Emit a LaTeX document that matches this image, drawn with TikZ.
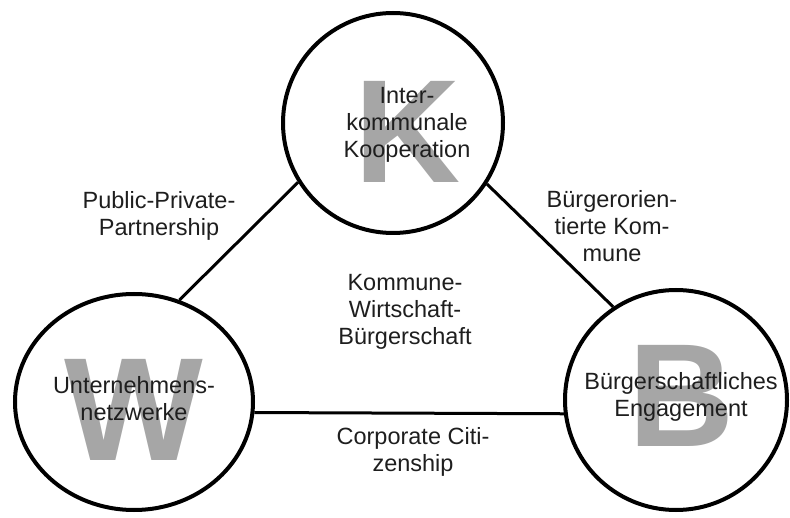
\documentclass[tikz,border=0pt]{standalone}
\usepackage{fontspec}
\setmainfont{Liberation Sans}
\usetikzlibrary{shapes.geometric}
\definecolor{lettergray}{RGB}{166,166,166}
\definecolor{txt}{RGB}{30,30,30}
\begin{document}
\begin{tikzpicture}[x=1pt,y=-1pt,
  ring/.style={draw=black,line width=4pt,ellipse,inner sep=0pt},
  bigletter/.style={text=lettergray,font=\fontsize{147}{150}\selectfont\bfseries,inner sep=0pt},
  lbl/.style={text=txt,align=center,font=\fontsize{23.5}{27}\selectfont,inner sep=0pt},
  link/.style={draw=black,line width=3pt}]
\useasboundingbox (0,0) rectangle (790,518);
% circles
\node[ring,minimum width=220pt,minimum height=220pt] (K) at (393,123) {};
\node[ring,minimum width=238pt,minimum height=216pt] (W) at (134,402) {};
\node[ring,minimum width=222pt,minimum height=220pt] (B) at (676,400) {};
% connectors
\draw[link] (K.212) -- (W.66);
\draw[link] (K.-33) -- (B.124);
\draw[link] (W.-5.7) -- (B.187);
% big letters
\node[bigletter] (Kl) at (408,132) {K};
\node[bigletter] (Wl) at (134,410) {W};
\node[bigletter] (Bl) at (682,396) {B};
% texts in circles
\node[lbl] (Kt) at (407,125) {Inter-\\kommunale\\Kooperation};
\node[lbl] (Wt) at (134,399) {Unternehmens-\\netzwerke};
\node[lbl] (Bt) at (681,397) {Bürgerschaftliches\\Engagement};
% edge labels
\node[lbl] (ppp) at (159,216) {Public-Private-\\Partnership};
\node[lbl] (bok) at (612,226) {Bürgerorien-\\tierte Kom-\\mune};
\node[lbl] (kwb) at (405,312) {Kommune-\\Wirtschaft-\\Bürgerschaft};
\node[lbl] (cc) at (413,452) {Corporate Citi-\\zenship};
\end{tikzpicture}
\end{document}
